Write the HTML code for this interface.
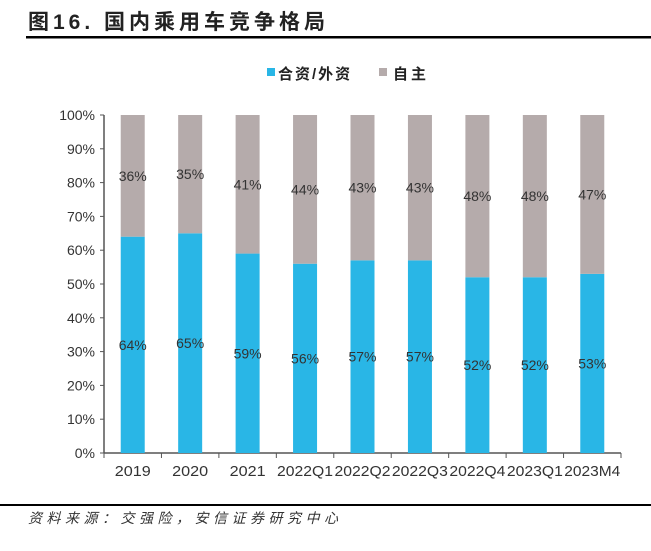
<!DOCTYPE html>
<html><head><meta charset="utf-8"><style>
body{margin:0;background:#fff;width:651px;height:551px;overflow:hidden;font-family:"Liberation Sans","Noto Sans CJK SC",sans-serif;}
</style></head><body>
<svg width="651" height="551" style="position:absolute;left:0;top:0">
<text x="28" y="29" font-size="21" font-weight="bold" fill="#222" letter-spacing="4" font-family="Liberation Sans, Noto Sans CJK SC, sans-serif">图16. 国内乘用车竞争格局</text>
<rect x="26" y="36" width="625" height="2.5" fill="#000"/>
<g>
<rect x="267" y="68" width="8" height="8" fill="#29b6e6"/>
<text x="278" y="79" font-size="15" font-weight="bold" fill="#222" letter-spacing="2">合资/外资</text>
<rect x="379" y="68" width="8" height="8" fill="#b5abab"/>
<text x="393" y="79" font-size="15" font-weight="bold" fill="#222" letter-spacing="3">自主</text>
</g>
<g id="plot"></g>
<rect x="0" y="504" width="651" height="2" fill="#000"/>
<text x="28" y="523" font-size="14" font-style="italic" fill="#333" letter-spacing="4.5">资料来源：交强险，安信证券研究中心</text>
</svg>
<script>
const categories=["2019","2020","2021","2022Q1","2022Q2","2022Q3","2022Q4","2023Q1","2023M4"];
const jvValues=[64,65,59,56,57,57,52,52,53];
const domesticValues=[36,35,41,44,43,43,48,48,47];
const yTicks=[0,10,20,30,40,50,60,70,80,90,100];
const NS="http://www.w3.org/2000/svg";
const g=document.getElementById('plot');
const x0=104,x1=621,yb=453,yt=115;
const bw=(x1-x0)/categories.length;
const y=v=>yb-(v/100)*(yb-yt);
const xc=i=>x0+bw*(i+0.5);
function mk(t,a){const e=document.createElementNS(NS,t);for(const k in a)e.setAttribute(k,a[k]);g.appendChild(e);return e;}
const ax=mk('line',{x1:x0,y1:yt,x2:x0,y2:yb,stroke:'#555','stroke-width':1.5});


const xa=mk('line',{x1:x0,y1:yb,x2:x1,y2:yb,stroke:'#555','stroke-width':1.5});


yTicks.forEach(t=>{
 const l=mk('line',{x1:x0-4,y1:y(t),x2:x0,y2:y(t),stroke:'#555','stroke-width':1});
 
 
 const tx=mk('text',{x:x0-9,y:y(t)+5,'font-size':14,'text-anchor':'end',fill:'#333'});
 tx.textContent=t+'%';
 
 
});
for(let i=0;i<=categories.length;i++){
 const l=mk('line',{x1:x0+bw*i,y1:yb,x2:x0+bw*i,y2:yb+5,stroke:'#555','stroke-width':1});
 
 
}
categories.forEach((c,i)=>{
 const w=24,cx=xc(i);
 const b1=mk('rect',{x:cx-w/2,y:y(jvValues[i]),width:w,height:yb-y(jvValues[i]),fill:'#29b6e6'});
 
 
 const top=jvValues[i]+domesticValues[i];
 const b2=mk('rect',{x:cx-w/2,y:y(top),width:w,height:y(jvValues[i])-y(top),fill:'#b5abab'});
 
 
 const l1=mk('text',{x:cx,y:y(jvValues[i]/2)+5,'font-size':14,'text-anchor':'middle',fill:'#333'});
 l1.textContent=jvValues[i]+'%';
 
 
 const l2=mk('text',{x:cx,y:y(jvValues[i]+domesticValues[i]/2)+5,'font-size':14,'text-anchor':'middle',fill:'#333'});
 l2.textContent=domesticValues[i]+'%';
 
 
 const xl=mk('text',{x:cx,y:476,'font-size':15,'text-anchor':'middle',fill:'#333',textLength:c.length>4?56:36,lengthAdjust:'spacingAndGlyphs'});
 xl.textContent=c;
 
 
});
</script>
</body></html>
